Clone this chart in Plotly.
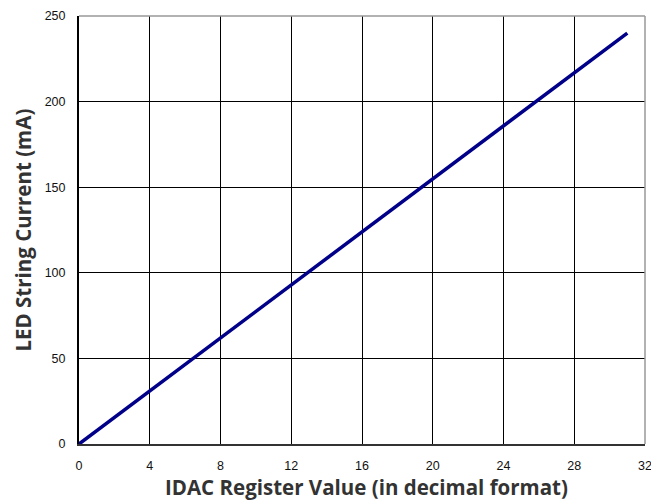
import plotly.graph_objects as go

idac = [0, 4, 8, 12, 16, 20, 24, 28, 31]
current_ma = [0, 31, 62, 93, 124, 155, 186, 217, 240]
x_ticks = [0, 4, 8, 12, 16, 20, 24, 28, 32]
y_ticks = [0, 50, 100, 150, 200, 250]
x_title = "IDAC Register Value (in decimal format)"
y_title = "LED String Current (mA)"

fig = go.Figure()
fig.add_trace(go.Scatter(x=idac, y=current_ma, mode="lines",
                         line=dict(color="#000088", width=3.5), showlegend=False))

tickfont = dict(family="Liberation Sans, Arial, sans-serif", size=12.5, color="#111")
titlefont = dict(family="Open Sans, sans-serif", size=20.5, color="#333")

# the page body has an 8px default margin, so the figure is sized to fit 659x502
fig.update_layout(
    width=651, height=494,
    margin=dict(l=71, r=14, t=8, b=58),
    paper_bgcolor="white", plot_bgcolor="white",
    xaxis=dict(range=[0, 32], tickvals=x_ticks, showgrid=True, gridcolor="black", gridwidth=1,
               showline=True, linecolor="#333", linewidth=1.5, zeroline=False, automargin=False,
               ticks="", tickfont=tickfont, ticklabelstandoff=9),
    yaxis=dict(range=[0, 250], tickvals=y_ticks, showgrid=True, gridcolor="black", gridwidth=1,
               showline=True, linecolor="black", linewidth=2, zeroline=False, automargin=False,
               ticks="", tickfont=tickfont, ticklabelstandoff=9),
    shapes=[
        dict(type="line", xref="paper", yref="paper", x0=0, x1=1, y0=1, y1=1,
             line=dict(color="#999", width=1.5), layer="above"),
        dict(type="line", xref="paper", yref="paper", x0=1, x1=1, y0=0, y1=1,
             line=dict(color="#999", width=1.5), layer="above"),
    ],
    annotations=[
        dict(text="<b>" + x_title + "</b>", xref="paper", yref="paper", x=0.5, y=0,
             xanchor="center", yanchor="middle", xshift=4, yshift=-43, showarrow=False,
             font=titlefont),
        dict(text="<b>" + y_title + "</b>", xref="paper", yref="paper", x=0, y=0.5,
             xanchor="center", yanchor="middle", xshift=-56.5, yshift=0, textangle=-90,
             showarrow=False, font=titlefont),
    ],
)

fig.write_html("out.html")
